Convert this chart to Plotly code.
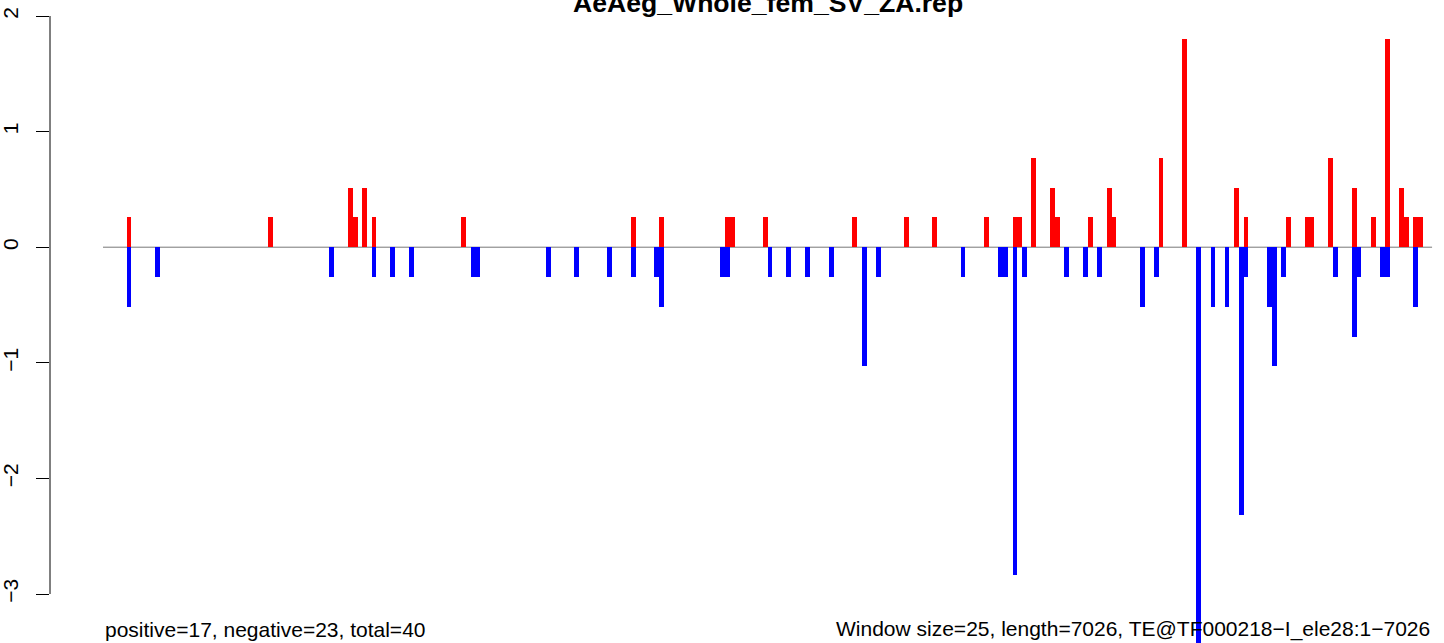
import plotly.graph_objects as go

title_text = "AeAeg_Whole_fem_SV_ZA.rep"
left_note = "positive=17, negative=23, total=40"
right_note = "Window size=25, length=7026, TE@TF000218\u2212I_ele28:1\u22127026"
n_windows = 282

pos_idx = [5, 35, 52, 53, 55, 57, 76, 112, 118, 132, 133, 140, 159, 170, 176, 187,
           193, 194, 197, 201, 202, 209, 213, 214, 224, 229, 240, 242, 251, 255, 256,
           260, 265, 269, 272, 275, 276, 278, 279]
pos_val = [0.258, 0.258, 0.515, 0.258, 0.515, 0.258, 0.258, 0.258, 0.258, 0.258, 0.258,
           0.258, 0.258, 0.258, 0.258, 0.258, 0.258, 0.258, 0.773, 0.515, 0.258, 0.258,
           0.515, 0.258, 0.773, 1.803, 0.515, 0.258, 0.258, 0.258, 0.258, 0.773, 0.515,
           0.258, 1.803, 0.515, 0.258, 0.258, 0.258]

neg_idx = [5, 11, 48, 57, 61, 65, 78, 79, 94, 100, 107, 112, 117, 118, 131, 132, 141,
           145, 149, 154, 161, 164, 182, 190, 191, 193, 195, 204, 208, 211, 220, 223,
           232, 235, 238, 241, 242, 247, 248, 250, 261, 265, 266, 271, 272, 278]
neg_val = [-0.515, -0.258, -0.258, -0.258, -0.258, -0.258, -0.258, -0.258, -0.258,
           -0.258, -0.258, -0.258, -0.258, -0.515, -0.258, -0.258, -0.258, -0.258,
           -0.258, -0.258, -1.03, -0.258, -0.258, -0.258, -0.258, -2.833, -0.258,
           -0.258, -0.258, -0.258, -0.515, -0.258, -3.605, -0.515, -0.515, -2.318,
           -0.258, -0.515, -1.03, -0.258, -0.258, -0.773, -0.258, -0.258, -0.258, -0.515]

y_ticks = [-3, -2, -1, 0, 1, 2]

FONT = "Liberation Sans, Arial, Helvetica, sans-serif"

fig = go.Figure()
fig.add_trace(go.Bar(x=[i + 0.5 for i in pos_idx], y=pos_val, width=1,
                     marker=dict(color="#FF0000", line=dict(width=0)), showlegend=False))
fig.add_trace(go.Bar(x=[i + 0.5 for i in neg_idx], y=neg_val, width=1,
                     marker=dict(color="#0000FF", line=dict(width=0)), showlegend=False))

# zero line
fig.add_shape(type="line", xref="x", yref="y", x0=0, x1=n_windows, y0=0, y1=0,
              line=dict(color="#777777", width=1), layer="below")
# y axis line from -3 to 2
fig.add_shape(type="line", xref="paper", yref="y", x0=0, x1=0, y0=min(y_ticks), y1=max(y_ticks),
              line=dict(color="black", width=1))

fig.add_annotation(text="<b>" + title_text + "</b>", x=n_windows / 2, xref="x",
                   y=1 - 20 / 643, yref="paper", yanchor="bottom", xanchor="center",
                   showarrow=False, font=dict(family=FONT, size=26.6, color="black"))
fig.add_annotation(text=left_note, x=0, xref="x", y=0, yref="paper",
                   xanchor="left", yanchor="bottom", showarrow=False,
                   font=dict(family=FONT, size=21, color="black"))
fig.add_annotation(text=right_note, x=n_windows, xref="x", y=0, yref="paper",
                   xanchor="right", yanchor="bottom", showarrow=False,
                   font=dict(family=FONT, size=21, color="black"))

fig.update_layout(
    width=1444, height=643,
    margin=dict(l=50, r=0, t=0, b=0, pad=0, autoexpand=False),
    paper_bgcolor="white", plot_bgcolor="white",
    barmode="overlay", bargap=0,
    xaxis=dict(visible=False, range=[-53 / 4.713, 1341 / 4.713]),
    yaxis=dict(range=[-(643 - 247.2) / 115.6, 247.2 / 115.6],
               tickvals=y_ticks, ticks="outside", ticklen=13, tickwidth=1,
               tickcolor="black", tickangle=-90, showgrid=False, zeroline=False,
               showline=False, ticklabelstandoff=10,
               tickfont=dict(family=FONT, size=21, color="black")),
)

fig.write_html("out.html", config={"displayModeBar": False},
               post_script="document.body.style.margin='0px';document.body.style.overflow='hidden';")
